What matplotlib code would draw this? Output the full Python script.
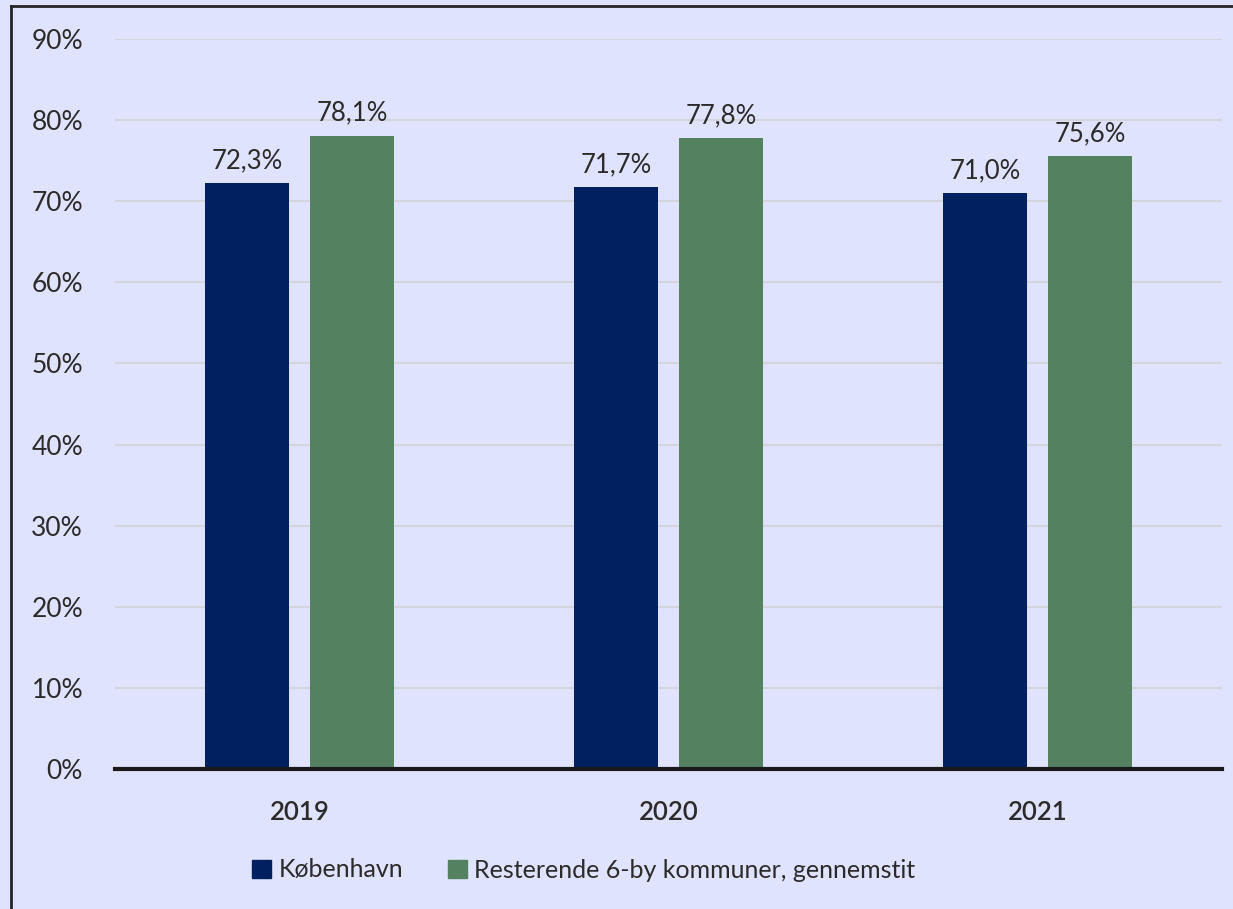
import matplotlib.pyplot as plt
import numpy as np
from matplotlib.lines import Line2D
from matplotlib.patches import Patch

years = ['2019', '2020', '2021']
kbh = [72.3, 71.7, 71.0]
rest = [78.1, 77.8, 75.6]
series_names = ['København', 'Resterende 6-by kommuner, gennemstit']
yticks = [0, 10, 20, 30, 40, 50, 60, 70, 80, 90]

bg = '#E0E3FD'
navy = '#002060'
green = '#548160'
txt = '#2b2b2b'

plt.rcParams['font.family'] = ['Lato', 'DejaVu Sans']

fig = plt.figure(figsize=(12.33, 9.09), dpi=100)
fig.patch.set_facecolor(bg)
ax = fig.add_axes([115 / 1233, 1 - 769 / 909, 1107 / 1233, 730 / 909])
ax.set_facecolor(bg)

x = np.arange(len(years))
w = 0.228
off = 0.142
b1 = ax.bar(x - off, kbh, w, color=navy, label=series_names[0], zorder=3)
b2 = ax.bar(x + off, rest, w, color=green, label=series_names[1], zorder=3)

for bars, vals in [(b1, kbh), (b2, rest)]:
    for b, v in zip(bars, vals):
        ax.annotate(f'{v:.1f}%'.replace('.', ','), (b.get_x() + b.get_width() / 2, v),
                    xytext=(0, 7), textcoords='offset points', ha='center', va='bottom',
                    fontsize=18.5, color=txt)

ax.set_xlim(-0.5, 2.5)
ax.set_ylim(0, 90)
ax.set_yticks(yticks)
ax.set_yticklabels([f'{t}%' for t in yticks], fontsize=19, color=txt)
ax.set_xticks(x)
ax.set_xticklabels(years, fontsize=18.5, color=txt, fontweight='semibold')
ax.tick_params(axis='y', length=0, pad=23)
ax.tick_params(axis='x', length=0, pad=22)
ax.grid(axis='y', color='#D3D4DC', linewidth=1.5, zorder=0)
for s in ['top', 'right', 'left']:
    ax.spines[s].set_visible(False)
ax.spines['bottom'].set_color('#1a1a1a')
ax.spines['bottom'].set_linewidth(3)
ax.spines['bottom'].set_zorder(4)

handles = [Patch(color=navy), Patch(color=green)]
fig.legend(handles, series_names, loc='center', bbox_to_anchor=(584 / 1233, 1 - 870 / 909),
           ncol=2, frameon=False, fontsize=18, handlelength=0.75, handleheight=0.75,
           handletextpad=0.3, columnspacing=1.8, labelcolor=txt)

# frame around chart
fig.add_artist(Line2D([11 / 1233, 11 / 1233], [0, 1 - 6 / 909], color='#262626', lw=2))
fig.add_artist(Line2D([11 / 1233, 1], [1 - 6 / 909, 1 - 6 / 909], color='#262626', lw=2))

plt.savefig('out.png', dpi=100, facecolor=bg)
